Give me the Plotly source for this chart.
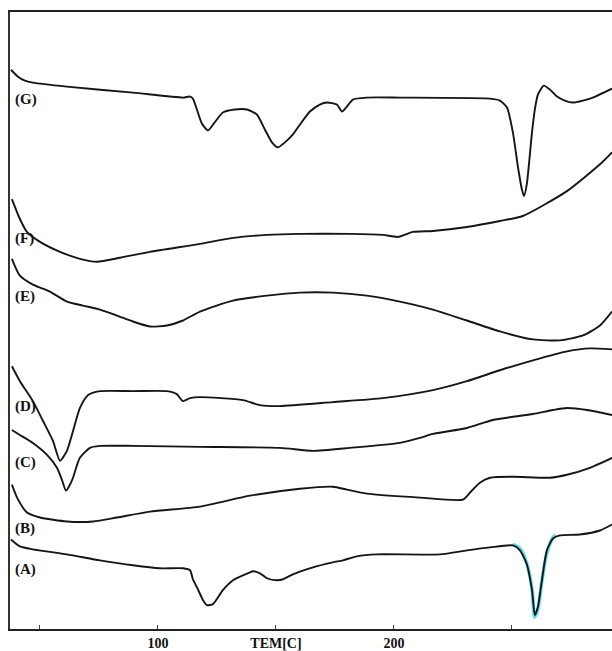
import plotly.graph_objects as go

# Temperatures (°C) and heat-flow signal (arbitrary units)
G_T = [37.7, 40.7, 43.6, 47.0, 61.4, 89.4, 110.6, 113.6, 114.8, 116.5, 118.6, 121.2, 123.7, 127.5, 132.6, 137.7,
       141.9, 145.3, 148.3, 150.8, 153.8, 157.2, 160.2, 164.4, 168.6, 171.6, 175.8, 178.0, 179.7, 182.6, 188.5,
       202.5, 240.7, 244.9, 247.9, 250.4, 252.5, 254.2, 255.1, 256.3, 258.5, 259.7, 261.0, 263.5, 266.1, 269.1,
       272.4, 275.8, 280.1, 284.3, 292.4]
G_Y = [562, 555, 551, 549, 545, 539, 534, 535, 533, 522, 508, 501, 508, 519, 522, 522,
       517, 502, 489, 484, 489, 497, 507, 520, 527, 529, 527, 520, 524, 532, 534,
       534, 533, 531, 524, 499, 465, 442, 435, 447, 499, 522, 537, 546, 542, 535,
       531, 529, 531, 534, 543]

F_T = [38.1, 41.5, 44.5, 50.0, 58.5, 66.9, 74.2, 83.9, 96.6, 117.8, 131.8, 146.2, 160.2, 181.3, 195.3, 201.7,
       208.0, 216.5, 230.9, 244.9, 254.6, 273.3, 287.3, 292.4]
F_Y = [432, 412, 399, 389, 379, 372, 369, 373, 379, 387, 393, 396, 397, 397, 396, 394,
       399, 400, 404, 410, 415, 440, 467, 479]

E_T = [38.1, 41.5, 47.0, 54.2, 61.4, 68.2, 75.4, 82.6, 89.4, 96.6, 103.8, 110.6, 117.8, 131.8, 146.2, 160.2,
       174.1, 188.5, 202.5, 216.5, 230.9, 244.9, 258.9, 270.3, 280.1, 287.3, 292.4]
E_Y = [372, 355, 346, 339, 329, 325, 321, 315, 309, 304, 305, 310, 319, 330, 335, 338,
       338, 335, 329, 321, 310, 299, 291, 290, 295, 305, 319]

D_T = [38.1, 41.5, 47.0, 51.3, 55.5, 58.5, 61.4, 64.0, 66.9, 70.3, 75.4, 89.4, 103.8, 108.0, 110.6, 113.6,
       117.8, 136.0, 143.2, 151.7, 174.1, 195.3, 216.5, 230.9, 244.9, 258.9, 273.3, 283.0, 292.4]
D_Y = [264, 249, 229, 209, 189, 169, 179, 199, 222, 235, 239, 239, 239, 236, 229, 232,
       233, 230, 225, 224, 228, 232, 240, 249, 260, 270, 279, 282, 281]

C_T = [38.1, 41.5, 47.0, 53.0, 57.2, 59.3, 61.0, 62.7, 64.0, 66.9, 71.2, 75.4, 89.4, 117.8, 151.7, 165.7,
       181.3, 202.5, 211.0, 216.5, 230.9, 241.9, 258.9, 267.4, 273.3, 281.8, 292.4]
C_Y = [200, 195, 187, 175, 162, 150, 139, 145, 152, 172, 182, 184, 184, 183, 182, 179,
       182, 187, 192, 196, 202, 210, 216, 220, 222, 220, 215]

B_T = [38.1, 40.3, 44.5, 50.0, 61.4, 72.5, 82.6, 96.6, 117.8, 139.0, 160.2, 174.1, 180.1, 188.5, 211.0,
       229.2, 232.2, 236.4, 240.7, 250.4, 266.1, 273.3, 283.0, 292.4]
B_Y = [145, 132, 117, 112, 108, 108, 112, 118, 123, 134, 141, 143, 140, 136, 132,
       130, 137, 147, 152, 153, 152, 155, 162, 172]

A_T = [37.7, 41.5, 47.0, 61.4, 75.4, 89.4, 100.8, 110.6, 113.6, 114.8, 116.5, 119.1, 120.8, 123.3, 127.5, 131.8,
       139.0, 140.2, 143.2, 146.2, 150.4, 153.0, 157.2, 165.7, 174.1, 178.4, 184.3, 192.8, 219.5, 230.9, 240.7,
       250.4, 253.4, 256.3, 258.5, 259.7, 261.0, 262.7, 264.8, 267.4, 270.3, 278.8, 287.3, 292.4]
A_Y = [90, 83, 80, 75, 69, 64, 61, 61, 59, 50, 42, 29, 24, 25, 39, 49,
       57, 58, 56, 51, 49, 50, 55, 62, 67, 69, 73, 75, 75, 79, 82,
       84, 79, 65, 39, 14, 22, 49, 79, 91, 94, 95, 99, 105]

# Fitted peak of (A) (cyan overlay)
AFIT_T = [250.4, 253.4, 256.3, 258.5, 259.7, 261.0, 262.7, 264.8, 267.4, 268.6]
AFIT_Y = [85, 81, 66, 40, 12, 20, 48, 76, 92, 94]

LABELS = ["(G)", "(F)", "(E)", "(D)", "(C)", "(B)", "(A)"]
LABEL_Y = [532, 392, 334, 224, 167, 101, 60]

TICK_VALS = [50, 100, 150, 200, 250]
TICK_TEXT = ["", "100", "TEM[C]", "200", ""]

fig = go.Figure()
fig.add_trace(go.Scatter(x=AFIT_T, y=AFIT_Y, mode="lines", line=dict(color="#3fd9ec", width=3.5, shape="spline"),
                         opacity=0.85, hoverinfo="skip", showlegend=False))
for T, Y, name in [(G_T, G_Y, "G"), (F_T, F_Y, "F"), (E_T, E_Y, "E"), (D_T, D_Y, "D"),
                   (C_T, C_Y, "C"), (B_T, B_Y, "B"), (A_T, A_Y, "A")]:
    fig.add_trace(go.Scatter(x=T, y=Y, mode="lines", name=name,
                             line=dict(color="#151515", width=1.9, shape="spline", smoothing=0.6),
                             showlegend=False))

for lab, ly in zip(LABELS, LABEL_Y):
    fig.add_annotation(x=38.4, y=ly, xref="x", yref="y", text=lab, showarrow=False, xanchor="left",
                       yanchor="middle", font=dict(family="Liberation Serif", size=15, color="#111", weight="bold"))

fig.update_layout(
    width=612, height=651,
    margin=dict(l=10, r=0, t=12, b=19),
    paper_bgcolor="white", plot_bgcolor="white",
    xaxis=dict(range=[37.3, 292.4], showgrid=False, zeroline=False, showline=True, linecolor="#222",
               linewidth=2, mirror=True, ticks="inside", ticklen=4, tickcolor="#444", tickwidth=1,
               tickvals=TICK_VALS, ticktext=TICK_TEXT,
               tickfont=dict(family="Liberation Serif", size=14, color="#111", weight="bold")),
    yaxis=dict(range=[0, 620], showgrid=False, zeroline=False, showline=True, linecolor="#333",
               linewidth=1.5, showticklabels=False, ticks=""),
)

fig.write_html("out.html")
